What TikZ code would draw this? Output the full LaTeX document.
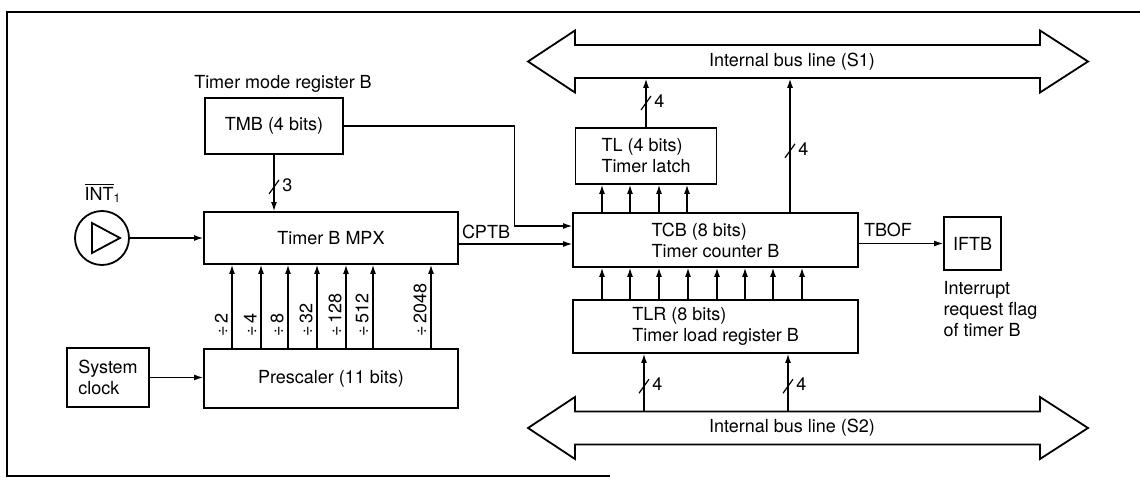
\documentclass[tikz,border=0pt]{standalone}
\usepackage{fontspec}
\setmainfont{TeX Gyre Heros}
\usetikzlibrary{arrows.meta,positioning,calc}

\tikzset{
  blk/.style={draw,line width=0.9pt,inner sep=1pt,align=left},
  conn/.style={line width=0.6pt,->},
  bus/.style={draw,line width=0.9pt,line join=miter},
  lbl/.style={inner sep=0pt},
}
% bus width mark: name, point, text
\newcommand{\buswid}[3]{%
  \draw[line width=0.6pt] ([shift={(-2.5pt,-3.5pt)}]#2) -- ([shift={(2.5pt,3.5pt)}]#2);
  \node[lbl,anchor=west] (#1) at ([xshift=4pt,yshift=1pt]#2) {#3};
}

\begin{document}
\begin{tikzpicture}[x=0.5pt,y=-0.5pt,font=\fontsize{9}{10.5}\selectfont,
  >={Latex[length=4.5pt,width=3pt]}]
\useasboundingbox (0,0) rectangle (1140,480);

% ---- frame ----
\draw[line width=0.9pt] (1140,12) -- (7,12) -- (7,476) -- (610,476);

% ---- blocks ----
\node[blk,minimum width=69pt,minimum height=28pt] (TMB) at (274,126) {TMB (4 bits)};
\node (tmbname) at (283,84) {Timer mode register B};
\node[blk,minimum width=127pt,minimum height=26pt] (MPX) at (331,238) {Timer B MPX};
\node[blk,minimum width=127pt,minimum height=29.5pt] (PRE) at (331,378.5) {Prescaler (11 bits)};
\node[blk,minimum width=41pt,minimum height=29.5pt] (SYS) at (108,377.5) {System\\clock};
\node[draw,circle,line width=0.9pt,minimum size=27pt,inner sep=0pt] (INT) at (102,238) {};
\node (intlab) at (103,193) {$\overline{\mbox{INT}}$\textsubscript{1}};
\draw[line width=0.9pt,line join=miter] ([shift={(-5pt,7.5pt)}]INT.center) -- ([shift={(-5pt,-7.5pt)}]INT.center)
  -- ([shift={(9pt,0pt)}]INT.center) -- cycle;

\node[blk,minimum width=70.5pt,minimum height=28pt] (TL) at (646,156) {TL (4 bits)\\Timer latch};
\node[blk,minimum width=142.5pt,minimum height=27pt] (TCB) at (715.5,240) {TCB (8 bits)\\Timer counter B};
\node[blk,minimum width=142.5pt,minimum height=26.5pt] (TLR) at (715.5,326.5) {TLR (8 bits)\\Timer load register B};
\node[blk,minimum width=28.5pt,minimum height=26.5pt] (IFTB) at (972.5,243.5) {IFTB};
\node[lbl,anchor=north west,align=left] (iftbname) at ([yshift=-5pt]IFTB.south west)
  {Interrupt\\request flag\\of timer B};

% ---- internal buses ----
\foreach \y in {61.5,428}
  \draw[bus] (575,{\y-16.5}) -- (1040,{\y-16.5}) -- (1040,{\y-31}) -- (1088,\y) -- (1040,{\y+31})
    -- (1040,{\y+16.5}) -- (575,{\y+16.5}) -- (575,{\y+31}) -- (528,\y) -- (575,{\y-31}) -- cycle;
\node[lbl,minimum height=17pt] (S1) at (792,61.5) {Internal bus line (S1)};
\node[lbl,minimum height=17pt] (S2) at (792,428) {Internal bus line (S2)};

% ---- left side ----
\draw[conn] (TMB.south) -- (TMB.south |- MPX.north) coordinate[pos=0.57] (w3);
\buswid{n3}{w3}{3}
\draw[conn] (INT.east) -- (INT.east -| MPX.west);
\draw[conn] (SYS.east) -- (SYS.east -| PRE.west);
\foreach \x/\d in {232/2,261/4,288/8,317/32,346/128,373/512,431/2048} {
  \draw[conn] (PRE.north -| \x,0) -- (MPX.south -| \x,0);
  \node[lbl,rotate=90,anchor=south west] (div\d) at ([xshift=-2pt,yshift=5.5pt]PRE.north -| \x,0) {÷\,\d};
}

% ---- to the counter ----
\draw[conn] (TMB.east) -| ([xshift=-29pt]TCB.north west) |- ([yshift=7pt]TCB.west);
\draw[conn] ([yshift=-3pt]MPX.east) -- ([yshift=-3pt]MPX.east -| TCB.west);
\node (cptb) at (486,232) {CPTB};
\draw[conn] (IFTB.west -| TCB.east) -- (IFTB.west);
\node (tbof) at (888,230) {TBOF};

\foreach \x in {602,630,659,687}
  \draw[conn] (TCB.north -| \x,0) -- (TL.south -| \x,0);
\foreach \x in {602,630,659,688,717,745,773,802}
  \draw[conn] (TLR.north -| \x,0) -- (TCB.south -| \x,0);

% ---- bus connections ----
\draw[conn] (TL.north) -- (TL.north |- S1.south) coordinate[pos=0.5] (w4a);
\buswid{n4a}{w4a}{4}
\draw[conn] (TCB.north -| 790,0) -- (S1.south -| 790,0) coordinate[pos=0.46] (w4b);
\buswid{n4b}{w4b}{4}
\draw[conn] (S2.north -| 644,0) -- (TLR.south -| 644,0) coordinate[pos=0.43] (w4c);
\buswid{n4c}{w4c}{4}
\draw[conn] (S2.north -| 788,0) -- (TLR.south -| 788,0) coordinate[pos=0.43] (w4d);
\buswid{n4d}{w4d}{4}

\end{tikzpicture}
\end{document}
